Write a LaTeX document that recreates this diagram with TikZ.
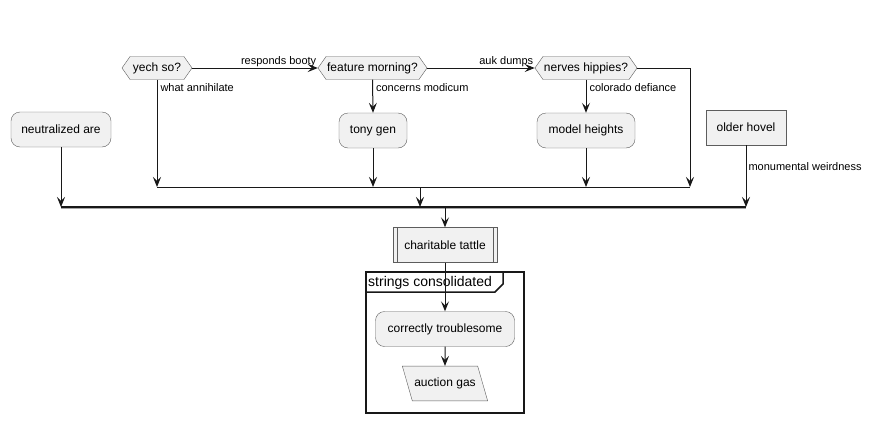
\documentclass[tikz,border=0pt]{standalone}
\usepackage{fontspec}
\setmainfont{Liberation Sans}
\usetikzlibrary{shapes.symbols,shapes.geometric,arrows.meta}
\definecolor{actfill}{HTML}{F1F1F1}
\definecolor{actline}{HTML}{181818}
\tikzset{
actnode/.style={
	draw=actline!70, fill=actfill, rounded corners=9pt,
	minimum height=35pt, inner xsep=9pt,
	font=\fontsize{12}{14}\selectfont},
plainbox/.style={
	draw=actline!70, fill=actfill,
	minimum height=35pt, inner xsep=10pt,
	font=\fontsize{12}{14}\selectfont},
choice/.style={
	draw=actline!70, fill=actfill, shape=signal,
	signal to=east and west, signal pointer angle=110,
	minimum height=23pt, inner xsep=1pt,
	font=\fontsize{12}{14}\selectfont},
flow/.style={
	draw=actline, line width=1pt,
	-{Stealth[length=10pt,width=8pt,inset=4pt]}},
link/.style={draw=actline, line width=1pt},
lbl/.style={font=\fontsize{11}{13}\selectfont, inner sep=1pt}
}

\begin{document}
\begin{tikzpicture}[x=1pt, y=-1pt]
	\useasboundingbox (0,0) rectangle (872,423);
	% decisions along the top
	\node[choice, minimum width=70pt] (yech) at (157,68) {yech so?};
	\node[choice, minimum width=109pt] (feature) at (372.5,68) {feature morning?};
	\node[choice, minimum width=102pt] (nerves) at (586,68) {nerves hippies?};
	\node[actnode, minimum width=68pt] (tony) at (373,130.5) {tony gen};
	\node[actnode, minimum width=98pt] (model) at (586,130.5) {model heights};
	\node[actnode, minimum width=100pt] (neutral) at (61,129.5) {neutralized are};
	\node[plainbox, minimum width=80pt] (older) at (746,127.5) {older hovel};
	% join points
	\coordinate (barA) at (157,187);
	\coordinate (barB) at (690,187);
	\coordinate (joinA) at (420,187);
	\coordinate (joinB) at (445,207);
	\coordinate (barC) at (61,207);
	\coordinate (barD) at (746,207);
	% lower part
	\node[plainbox, minimum width=104pt] (tattle) at (445,245) {charitable tattle};
	\draw[actline!70] ([xshift=4pt]tattle.north west) -- ([xshift=4pt]tattle.south west)
		([xshift=-4pt]tattle.north east) -- ([xshift=-4pt]tattle.south east);
	\draw[actline, line width=1.5pt] (366,272) rectangle (524,413);
	\draw[actline, line width=1.5pt] (366,292) -- (495,292) -- (503,284) -- (503,272);
	\node[anchor=west, inner sep=1pt, font=\fontsize{14}{16}\selectfont] (frame) at (367,282.5) {strings consolidated};
	\node[actnode, minimum width=139pt] (correct) at (445,329) {correctly troublesome};
	\node[draw=actline!70, fill=actfill, trapezium, trapezium left angle=106,
		trapezium right angle=74, trapezium stretches body, inner ysep=11.8pt, inner xsep=2pt,
		font=\fontsize{12}{14}\selectfont] (auction) at (445,383.5) {auction gas};

	% connectors
	\draw[flow] (yech.east) -- node[lbl, pos=1, anchor=south east] {responds booty} (feature.west);
	\draw[flow] (feature.east) -- node[lbl, pos=1, anchor=south east] {auk dumps} (nerves.west);
	\draw[flow] (feature.south) -- node[lbl, pos=0.25, anchor=west, xshift=2pt] {concerns modicum} (tony.north);
	\draw[flow] (nerves.south) -- node[lbl, pos=0.25, anchor=west, xshift=2pt] {colorado defiance} (model.north);
	\draw[flow] (yech.south) -- node[lbl, pos=0.07, anchor=west, xshift=2pt] {what annihilate} (barA);
	\draw[flow] (nerves.east) -| (barB);
	\draw[flow] (tony.south) -- (tony.south |- barA);
	\draw[flow] (model.south) -- (model.south |- barA);
	\draw[link] (barA) -- (barB);
	\draw[flow] (joinA) -- (joinA |- barC);
	\draw[flow] (neutral.south) -- (barC);
	\draw[flow] (older.south) -- node[lbl, pos=0.35, anchor=west, xshift=1pt] {monumental weirdness} (barD);
	\draw[black!35, line width=1pt] ([yshift=-1.5pt]barC) -- ([yshift=-1.5pt]barD);
	\draw[link, line width=1.2pt] (barC) -- (barD);
	\draw[flow] (joinB) -- (tattle.north);
	\draw[flow] (tattle.south) -- (correct.north);
	\draw[flow] (correct.south) -- (auction.north);
\end{tikzpicture}
\end{document}
